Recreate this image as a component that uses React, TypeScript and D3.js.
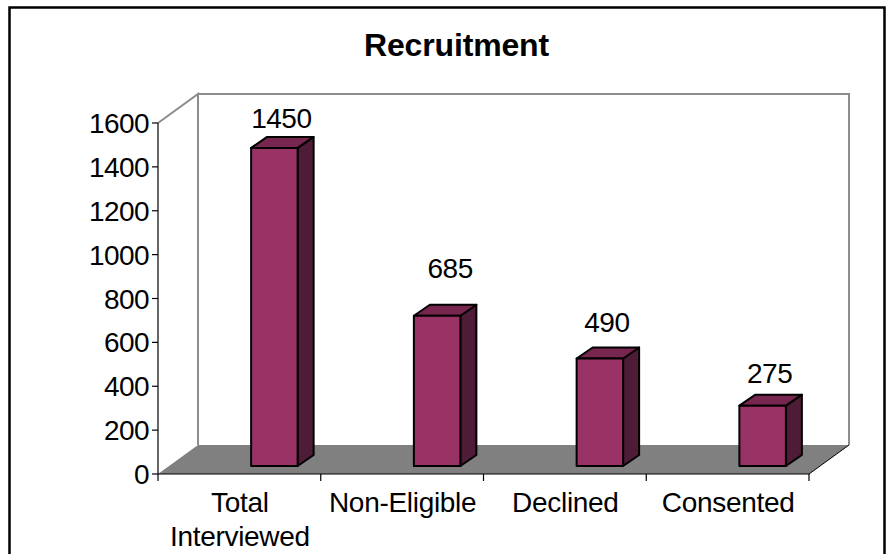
import React from "react";
import * as d3 from "d3";

const categories = [["Total", "Interviewed"], ["Non-Eligible"], ["Declined"], ["Consented"]];
const values = [1450, 685, 490, 275];
const yTicks = [0, 200, 400, 600, 800, 1000, 1200, 1400, 1600];
const labelDx = [7, 13, 7, 7];
const labelDy = [20, 38, 27, 23];

const FONT = "'Liberation Sans', Arial, sans-serif";
const x0 = 158, x1 = 809, yBase = 474, yTop = 123;
const wallDx = 40, wallDy = -29;
const barDx = 16, barDy = -11, barW = 46.5, barInset = 8, barShift = 35;

const x = d3.scaleBand<number>().domain(d3.range(categories.length)).range([x0, x1]);
const y = d3.scaleLinear().domain([0, 1600]).range([yBase, yTop]);
const pts = (p: number[][]) => p.map((q) => q.join(",")).join(" ");

export default function App() {
  return (
    <svg width={886} height={554} style={{ position: "absolute", left: 0, top: 0 }} fontFamily={FONT}>
      <rect x={0} y={0} width={886} height={554} fill="#fff" />
      <path d="M9.5 554V7.5H884.5V554" fill="none" stroke="#000" strokeWidth={2.5} />
      <text x={456.5} y={56} textAnchor="middle" fontSize={32} fontWeight="bold" letterSpacing={-0.15}>Recruitment</text>

      {/* back wall and side wall */}
      <polyline
        points={pts([[x0, yTop], [x0 + wallDx, yTop + wallDy], [x0 + wallDx, yBase + wallDy]])}
        fill="none" stroke="#8c8c8c" strokeWidth={2} />
      <polyline
        points={pts([[x0 + wallDx, yTop + wallDy], [x1 + wallDx, yTop + wallDy], [x1 + wallDx, yBase + wallDy]])}
        fill="none" stroke="#8c8c8c" strokeWidth={2} />
      {/* floor */}
      <polygon
        points={pts([[x0, yBase], [x1, yBase], [x1 + wallDx, yBase + wallDy], [x0 + wallDx, yBase + wallDy]])}
        fill="#808080" />
      <polyline points={pts([[x1, yBase], [x1 + wallDx, yBase + wallDy]])} fill="none" stroke="#000" strokeWidth={1} />

      {/* axes */}
      <line x1={x0} x2={x0} y1={yTop} y2={yBase} stroke="#000" strokeWidth={1.2} />
      <line x1={x0} x2={x1} y1={yBase} y2={yBase} stroke="#000" strokeWidth={1.2} />
      {yTicks.map((t) => (
        <g key={t}>
          <line x1={x0 - 6} x2={x0} y1={y(t)} y2={y(t)} stroke="#000" strokeWidth={1.2} />
          <text x={x0 - 9} y={y(t) + 10} textAnchor="end" fontSize={28} letterSpacing={-0.6}>{t}</text>
        </g>
      ))}
      {d3.range(categories.length + 1).map((i) => {
        const xt = x0 + i * x.step();
        return <line key={i} x1={xt} x2={xt} y1={yBase} y2={yBase + 7} stroke="#000" strokeWidth={1.2} />;
      })}
      {categories.map((lines, i) =>
        lines.map((s, j) => (
          <text key={s} x={x(i)! + x.bandwidth() / 2 + 0.5} y={512 + j * 34} textAnchor="middle" fontSize={28} letterSpacing={-0.3}>{s}</text>
        ))
      )}

      {/* bars */}
      {values.map((v, i) => {
        const cx = x(i)! + x.bandwidth() / 2 + barShift;
        const l = cx - barW / 2, r = cx + barW / 2;
        const bot = yBase - barInset;
        const top = y(v) - barInset;
        return (
          <g key={i} stroke="#000" strokeWidth={2} strokeLinejoin="round">
            <polygon points={pts([[r, bot], [r + barDx, bot + barDy], [r + barDx, top + barDy], [r, top]])} fill="#4f1c37" />
            <polygon points={pts([[l, top], [l + barDx, top + barDy], [r + barDx, top + barDy], [r, top]])} fill="#77264f" />
            <rect x={l} y={top} width={barW} height={bot - top} fill="#993366" />
            <text x={cx + labelDx[i]} y={top - labelDy[i]} textAnchor="middle" fontSize={28} letterSpacing={-0.5} stroke="none" fill="#000">{v}</text>
          </g>
        );
      })}
    </svg>
  );
}
